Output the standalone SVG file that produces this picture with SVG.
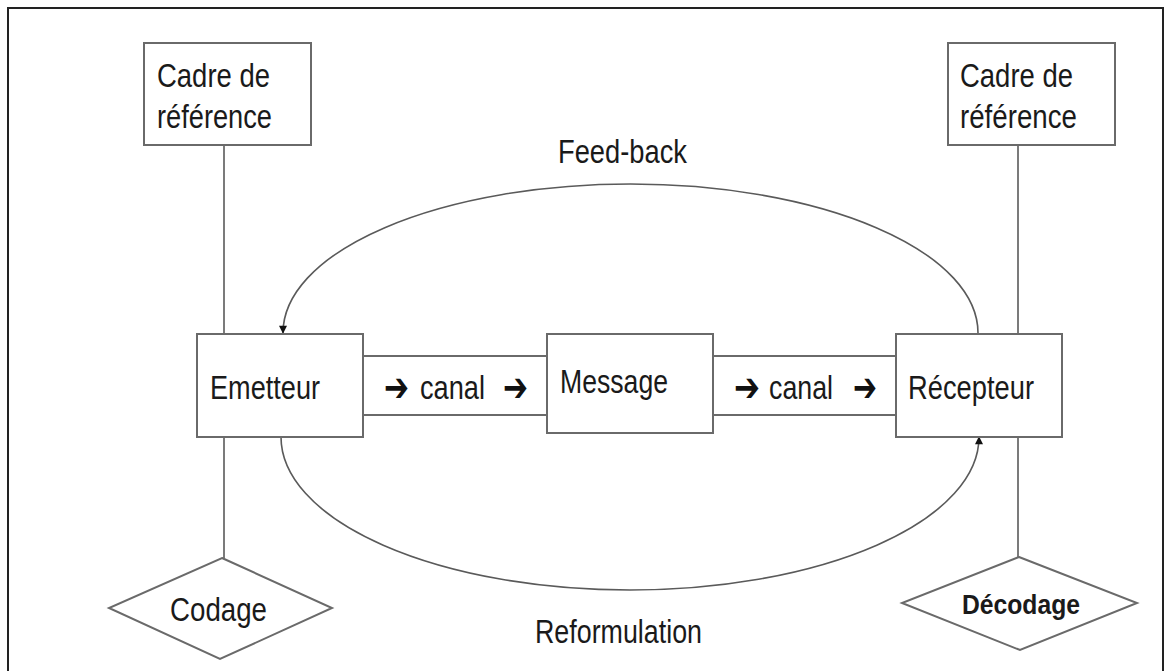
<svg xmlns="http://www.w3.org/2000/svg" width="1165" height="671" viewBox="0 0 1165 671">
<style>
.box{fill:#fff;stroke:#6a6a6a;stroke-width:2}
.ln{fill:none;stroke:#5a5a5a;stroke-width:1.6}
.t{font-family:"Liberation Sans",Arial,sans-serif;font-size:33px;fill:#1a1a1a}
.b{font-weight:bold;font-size:27px}
.ar{font-family:"DejaVu Sans",sans-serif;font-size:40px;font-weight:bold;fill:#111}
</style>
<defs>
<marker id="ah" viewBox="0 0 10 10" refX="9" refY="5" markerWidth="9" markerHeight="8" markerUnits="userSpaceOnUse" orient="auto">
<path d="M0,0 L10,5 L0,10 Z" fill="#111"/>
</marker>
</defs>
<rect x="0" y="0" width="1165" height="671" fill="#fff"/>
<path d="M8,680 L8,8 L1163,8 L1163,680" fill="none" stroke="#222" stroke-width="2"/>

<g id="connectors">
<line class="ln" x1="224" y1="145" x2="224" y2="334"/>
<line class="ln" x1="224" y1="437" x2="224" y2="558"/>
<line class="ln" x1="1018" y1="145" x2="1018" y2="334"/>
<line class="ln" x1="1018" y1="437" x2="1018" y2="557"/>
<path id="feedback" class="ln" d="M978,333 A347.5,149 0 0 0 283,333" marker-end="url(#ah)"/>
<path id="reformulation" class="ln" d="M281,437 A349,153 0 0 0 979,437" marker-end="url(#ah)"/>
</g>

<g id="cadre-gauche">
<rect class="box" x="144" y="43" width="167" height="102"/>
<text class="t" x="157" y="87" textLength="113" lengthAdjust="spacingAndGlyphs">Cadre de</text>
<text class="t" x="157" y="128" textLength="115" lengthAdjust="spacingAndGlyphs">référence</text>
</g>
<g id="cadre-droite">
<rect class="box" x="948" y="43" width="167" height="102"/>
<text class="t" x="960" y="87" textLength="113" lengthAdjust="spacingAndGlyphs">Cadre de</text>
<text class="t" x="960" y="128" textLength="117" lengthAdjust="spacingAndGlyphs">référence</text>
</g>

<g id="canal1">
<rect class="box" x="363" y="356" width="184" height="59"/>
<text class="ar" x="384" y="401" textLength="25" lengthAdjust="spacingAndGlyphs">➔</text>
<text class="t" x="420" y="399" textLength="65" lengthAdjust="spacingAndGlyphs">canal</text>
<text class="ar" x="503" y="401" textLength="25" lengthAdjust="spacingAndGlyphs">➔</text>
</g>
<g id="canal2">
<rect class="box" x="713" y="356" width="183" height="59"/>
<text class="ar" x="734" y="401" textLength="26" lengthAdjust="spacingAndGlyphs">➔</text>
<text class="t" x="769" y="399" textLength="64" lengthAdjust="spacingAndGlyphs">canal</text>
<text class="ar" x="853" y="401" textLength="24" lengthAdjust="spacingAndGlyphs">➔</text>
</g>

<g id="emetteur">
<rect class="box" x="197" y="334" width="166" height="103"/>
<text class="t" x="210" y="399" textLength="110" lengthAdjust="spacingAndGlyphs">Emetteur</text>
</g>
<g id="message">
<rect class="box" x="547" y="334" width="166" height="99"/>
<text class="t" x="560" y="393" textLength="108" lengthAdjust="spacingAndGlyphs">Message</text>
</g>
<g id="recepteur">
<rect class="box" x="896" y="334" width="166" height="103"/>
<text class="t" x="908" y="399" textLength="126" lengthAdjust="spacingAndGlyphs">Récepteur</text>
</g>

<g id="codage">
<polygon class="box" points="222,558 332,608 220,659 109,608"/>
<text class="t" x="170" y="621" textLength="97" lengthAdjust="spacingAndGlyphs">Codage</text>
</g>
<g id="decodage">
<polygon class="box" points="1019,557 1137,603 1020,650 902,603"/>
<text class="t b" x="962" y="614" textLength="118" lengthAdjust="spacingAndGlyphs">Décodage</text>
</g>

<g id="labels">
<text class="t" x="558" y="163" textLength="129" lengthAdjust="spacingAndGlyphs">Feed-back</text>
<text class="t" x="535" y="643" textLength="167" lengthAdjust="spacingAndGlyphs">Reformulation</text>
</g>
</svg>
